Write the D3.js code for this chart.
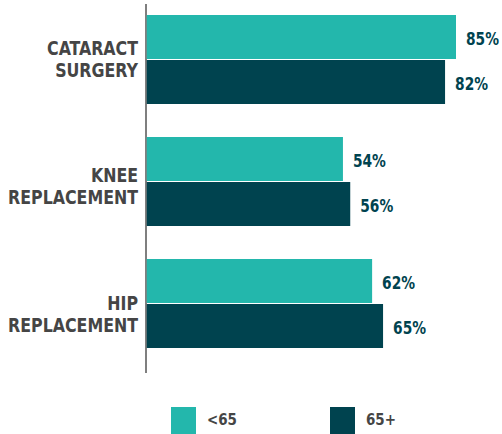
<!DOCTYPE html>
<html>
<head>
<meta charset="utf-8">
<script src="https://cdn.jsdelivr.net/npm/d3@7"></script>
<style>
  html, body { margin: 0; padding: 0; background: #fff; }
  svg { display: block; }
  text { font-family: 'DejaVu Sans', sans-serif; font-stretch: condensed; font-weight: bold; }
</style>
</head>
<body>
<svg id="chart" width="502" height="434"></svg>
<script>
// ---- data ----
const categories = [["CATARACT", "SURGERY"], ["KNEE", "REPLACEMENT"], ["HIP", "REPLACEMENT"]];
const seriesNames = ["<65", "65+"];
const under65 = [85, 54, 62];
const over65 = [82, 56, 65];

// ---- layout / style ----
const colors = ["#23b7ac", "#00434f"];
const labelShift = [0, 4, 10];

const svg = d3.select("#chart");
const catKeys = categories.map(c => c.join(" "));
const values = [under65, over65];

// horizontal squeeze factor so a reference string fits a target width
function squeeze(size, sample, target) {
  const t = svg.append("text").attr("font-size", size).text(sample);
  const w = t.node().getComputedTextLength();
  t.remove();
  return target / w;
}
const sxLabel = squeeze(19, "REPLACEMENT", 130);
const sxValue = squeeze(17.5, "85%", 33);
const sxLegend = squeeze(16, "<65", 30);

const y0 = d3.scaleBand().domain(catKeys).range([15, 348]).paddingInner(0.2705).paddingOuter(0);
const y1 = d3.scaleBand().domain(seriesNames).range([0, y0.bandwidth()]).paddingInner(1 / 44.5).paddingOuter(0);
const x = d3.scaleLinear().domain([0, 85]).range([146, 456]);

// axis line
svg.append("line")
  .attr("x1", 146).attr("x2", 146)
  .attr("y1", 4).attr("y2", 373)
  .attr("stroke", "#555").attr("stroke-width", 1.5);

const groups = svg.selectAll("g.grp").data(catKeys).join("g")
  .attr("class", "grp")
  .attr("transform", d => `translate(0,${y0(d)})`);

groups.each(function (cat, i) {
  const g = d3.select(this);
  seriesNames.forEach((s, j) => {
    const v = values[j][i];
    g.append("rect")
      .attr("x", x(0) + 0.75)
      .attr("y", y1(s))
      .attr("width", x(v) - x(0) - 0.75)
      .attr("height", y1.bandwidth())
      .attr("fill", colors[j]);
    g.append("text")
      .attr("transform", `translate(${x(v) + 10},${y1(s) + y1.bandwidth() / 2 + 8}) scale(${sxValue},1)`)
      .attr("font-size", 17.5)
      .attr("fill", "#00434f")
      .text(v + "%");
  });
  // category label
  const lines = categories[i];
  const cy = y0.bandwidth() / 2 + labelShift[i];
  lines.forEach((ln, k) => {
    g.append("text")
      .attr("transform", `translate(138,${cy - 4 + k * 22}) scale(${sxLabel},1)`)
      .attr("text-anchor", "end")
      .attr("font-size", 19)
      .attr("fill", "#454545")
      .text(ln);
  });
});

// legend
const legendX = [171, 330];
seriesNames.forEach((s, j) => {
  svg.append("rect")
    .attr("x", legendX[j]).attr("y", 407)
    .attr("width", 25).attr("height", 28)
    .attr("fill", colors[j]);
  svg.append("text")
    .attr("transform", `translate(${legendX[j] + 36},425) scale(${sxLegend},1)`)
    .attr("font-size", 16)
    .attr("fill", "#454545")
    .text(s);
});
</script>
</body>
</html>
